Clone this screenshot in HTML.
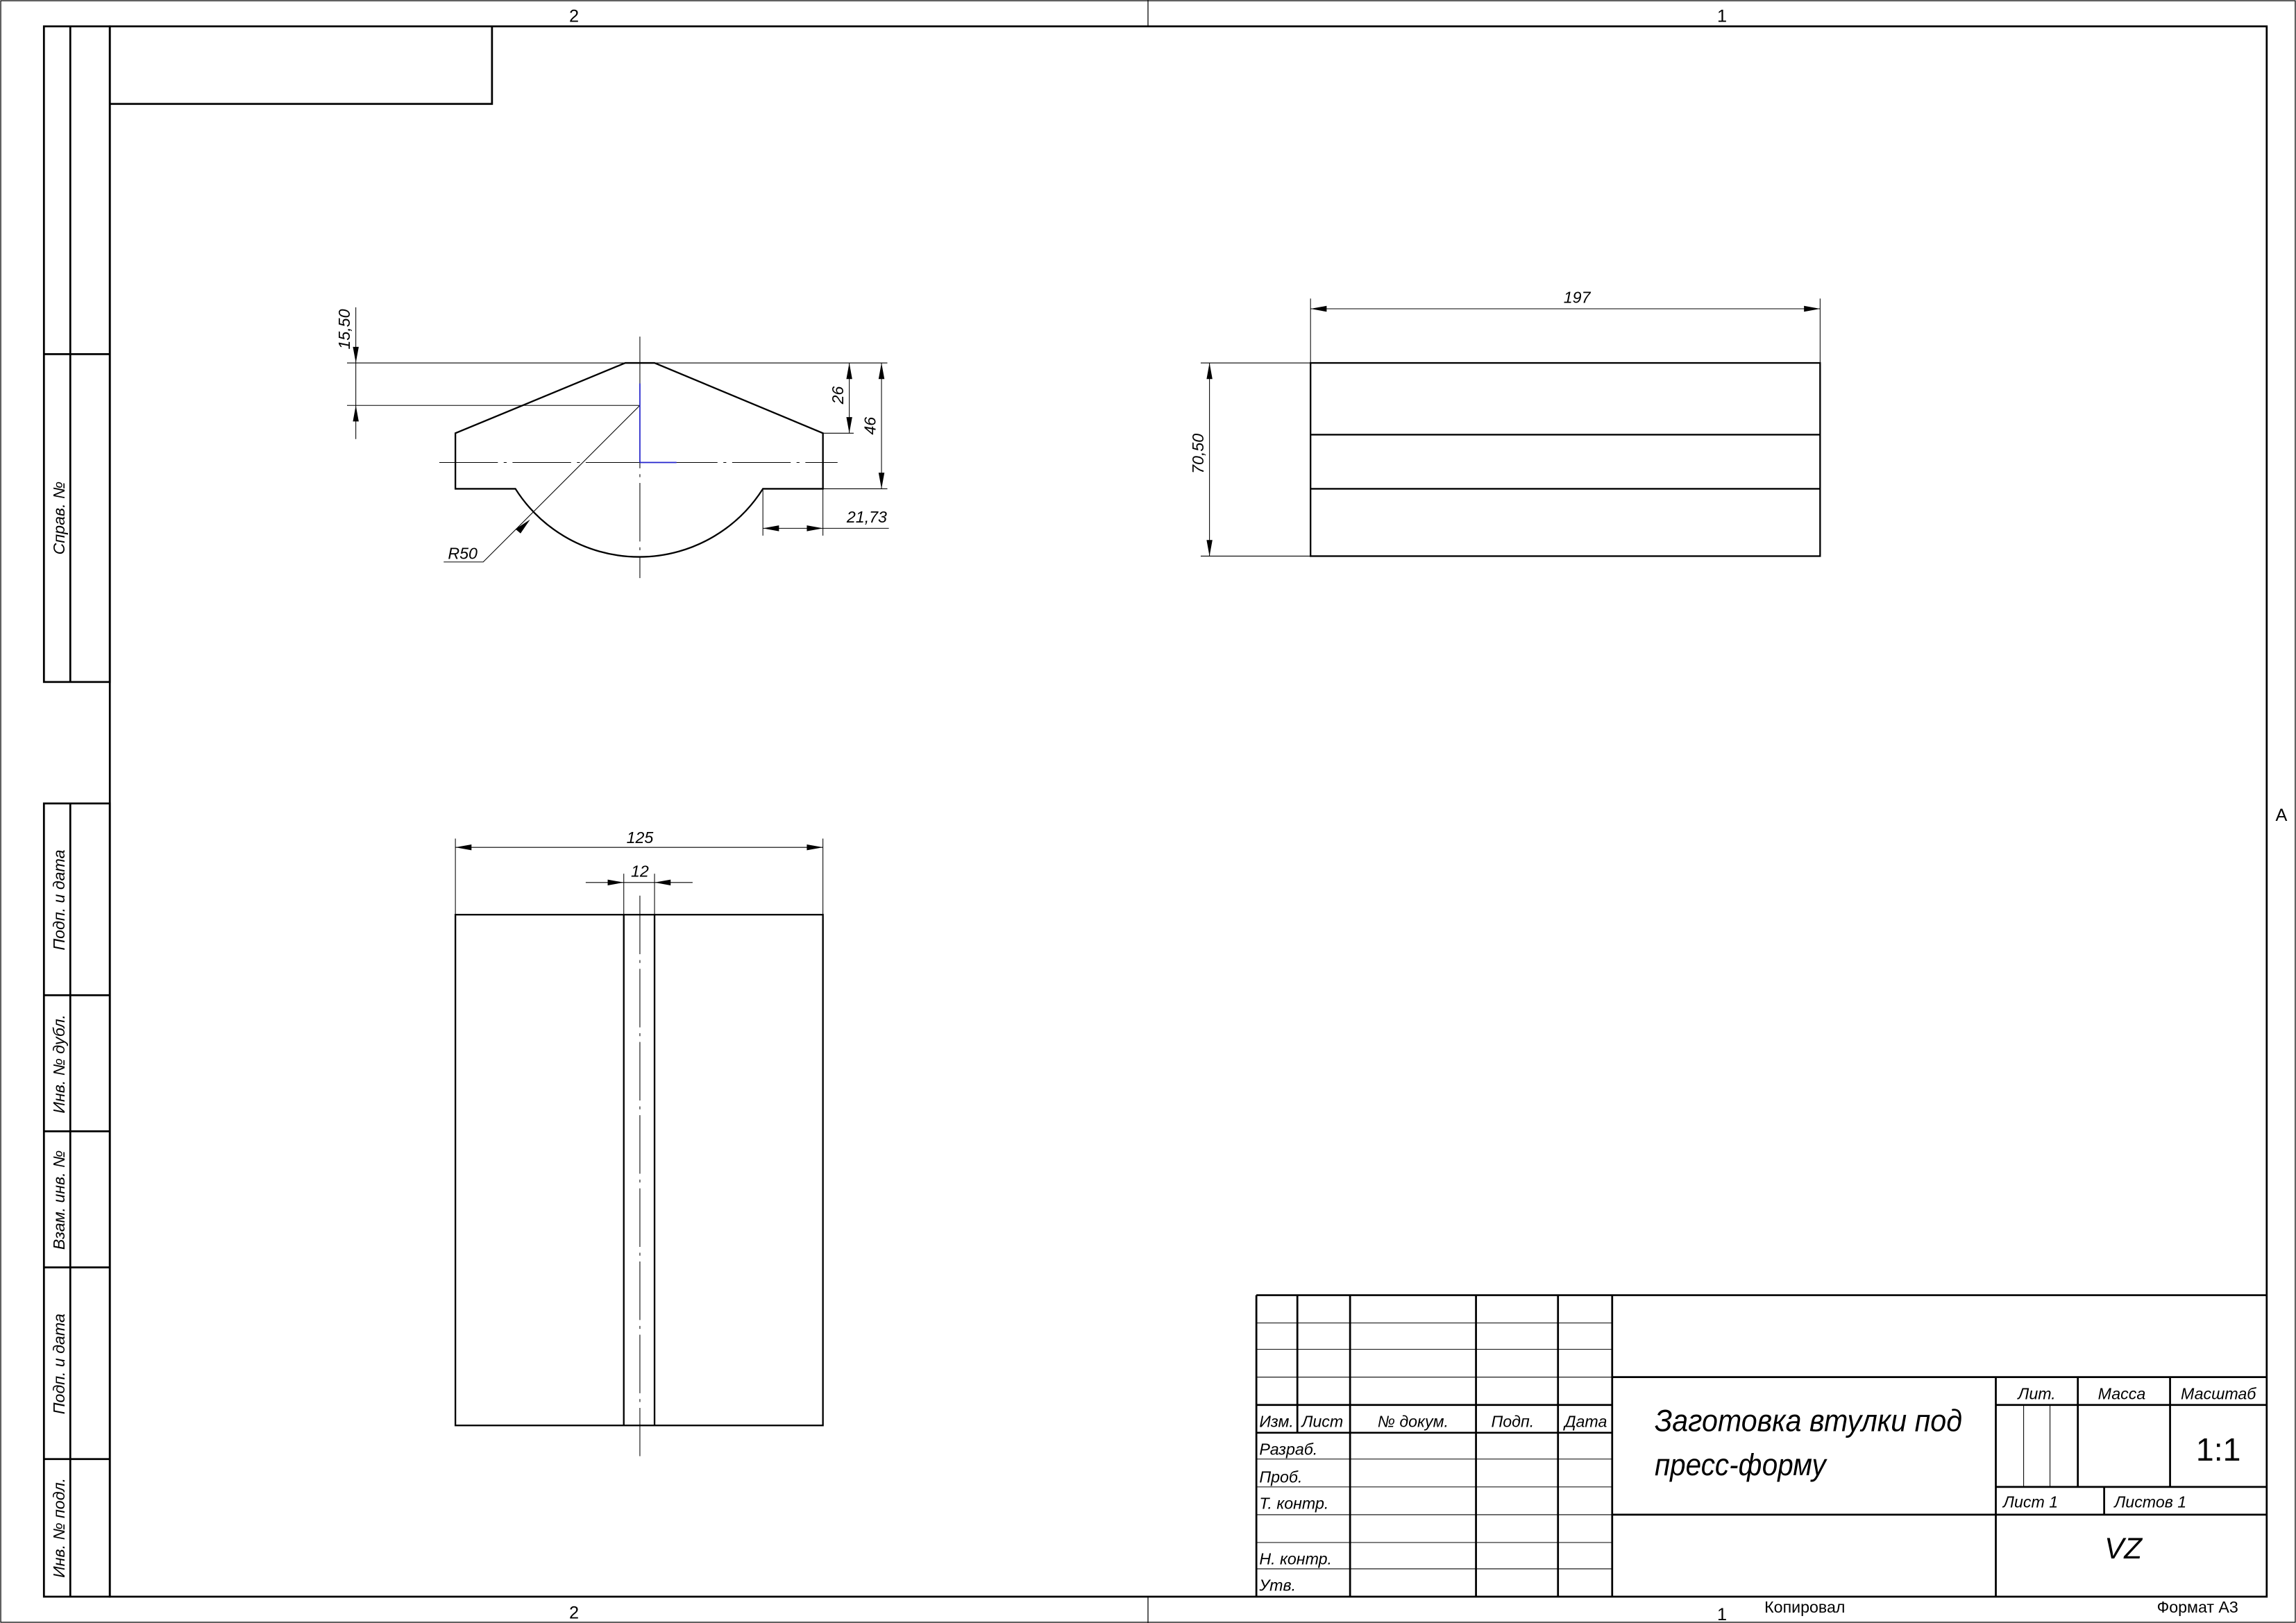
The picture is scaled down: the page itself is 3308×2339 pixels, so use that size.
<!DOCTYPE html>
<html><head><meta charset="utf-8"><style>
html,body{margin:0;padding:0;background:#fff}
svg{display:block}
text{font-family:"Liberation Sans",sans-serif;font-style:italic;fill:#000}
</style></head><body>
<svg width="3308" height="2339" viewBox="0 0 1568 1109" preserveAspectRatio="none" xmlns="http://www.w3.org/2000/svg">
<g fill="none" stroke="#000" stroke-width="0.6">
<rect x="0.5" y="0.5" width="1567" height="1108"/>
<line x1="784" y1="0" x2="784" y2="18"/>
<line x1="784" y1="1091" x2="784" y2="1109"/>
</g>
<g fill="none" stroke="#000" stroke-width="1.3">
<rect x="75" y="18" width="1473" height="1073"/>
<rect x="30" y="18" width="45" height="448"/>
<rect x="30" y="549" width="45" height="542"/>
<line x1="48" y1="18" x2="48" y2="466"/>
<line x1="48" y1="549" x2="48" y2="1091"/>
<line x1="30" y1="242" x2="75" y2="242"/>
<line x1="30" y1="680" x2="75" y2="680"/>
<line x1="30" y1="773" x2="75" y2="773"/>
<line x1="30" y1="866" x2="75" y2="866"/>
<line x1="30" y1="997" x2="75" y2="997"/>
<polyline points="75,71 336,71 336,18"/>
</g>
<g font-size="12" text-anchor="middle" style="font-style:normal">
<text x="392" y="15" style="font-style:normal">2</text><text x="1176" y="15" style="font-style:normal">1</text>
<text x="392" y="1106" style="font-style:normal">2</text><text x="1176" y="1107" style="font-style:normal">1</text>
<text x="1558" y="561" style="font-style:normal">A</text>
</g>
<text x="1205" y="1102" font-size="11" style="font-style:normal">Копировал</text>
<text x="1473" y="1102" font-size="11" style="font-style:normal">Формат А3</text>
<g font-size="11">
<text transform="translate(44,354) rotate(-90)" text-anchor="middle">Справ. №</text>
<text transform="translate(44,615) rotate(-90)" text-anchor="middle">Подп. и дата</text>
<text transform="translate(44,727) rotate(-90)" text-anchor="middle">Инв. № дубл.</text>
<text transform="translate(44,820) rotate(-90)" text-anchor="middle">Взам. инв. №</text>
<text transform="translate(44,932) rotate(-90)" text-anchor="middle">Подп. и дата</text>
<text transform="translate(44,1044) rotate(-90)" text-anchor="middle">Инв. № подл.</text>
</g>

<!-- View 1 -->
<g fill="none" stroke="#000" stroke-width="1.1">
<path d="M427,248 L447,248 L562,296 L562,334 L521,334 A100,100 0 0 1 352,334 L311,334 L311,296 Z"/>
</g>
<g fill="none" stroke="#000" stroke-width="0.5">
<line x1="437" y1="230" x2="437" y2="395" stroke-dasharray="40,4,2,4"/>
<line x1="300" y1="316" x2="572" y2="316" stroke-dasharray="40,4,2,4"/>
<line x1="237" y1="248" x2="606" y2="248"/>
<line x1="237" y1="277" x2="437" y2="277"/>
<line x1="243" y1="210" x2="243" y2="300"/>
<line x1="562" y1="296" x2="583" y2="296"/>
<line x1="562" y1="334" x2="606" y2="334"/>
<line x1="580" y1="248" x2="580" y2="296"/>
<line x1="602" y1="248" x2="602" y2="334"/>
<line x1="521" y1="334" x2="521" y2="366"/>
<line x1="562" y1="334" x2="562" y2="366"/>
<line x1="521" y1="361" x2="607" y2="361"/>
<polyline points="437,277 330,384 303,384"/>
</g>
<g fill="#000">
<polygon points="243,248 241,237 245,237"/>
<polygon points="243,277 241,288 245,288"/>
<polygon points="580,248 578,259 582,259"/>
<polygon points="580,296 578,285 582,285"/>
<polygon points="602,248 600,259 604,259"/>
<polygon points="602,334 600,323 604,323"/>
<polygon points="521,361 532,359 532,363"/>
<polygon points="562,361 551,359 551,363"/>
<polygon points="362,355 352,361.5 355.5,364.5"/>
</g>
<g stroke="#22c" stroke-width="0.8"><line x1="437" y1="262" x2="437" y2="316"/><line x1="437" y1="316" x2="462" y2="316"/></g>
<g font-size="11">
<text transform="translate(239,225) rotate(-90)" text-anchor="middle">15,50</text>
<text transform="translate(576,270) rotate(-90)" text-anchor="middle">26</text>
<text transform="translate(598,291) rotate(-90)" text-anchor="middle">46</text>
<text x="592" y="357" text-anchor="middle">21,73</text>
<text x="316" y="382" text-anchor="middle">R50</text>
</g>

<!-- View 2 -->
<g fill="none" stroke="#000" stroke-width="1.1">
<rect x="895" y="248" width="348" height="132"/>
<line x1="895" y1="297" x2="1243" y2="297"/>
<line x1="895" y1="334" x2="1243" y2="334"/>
</g>
<g fill="none" stroke="#000" stroke-width="0.5">
<line x1="895" y1="204" x2="895" y2="248"/>
<line x1="1243" y1="204" x2="1243" y2="248"/>
<line x1="895" y1="211" x2="1243" y2="211"/>
<line x1="820" y1="248" x2="895" y2="248"/>
<line x1="820" y1="380" x2="895" y2="380"/>
<line x1="826" y1="248" x2="826" y2="380"/>
</g>
<g fill="#000">
<polygon points="895,211 906,209 906,213"/>
<polygon points="1243,211 1232,209 1232,213"/>
<polygon points="826,248 824,259 828,259"/>
<polygon points="826,380 824,369 828,369"/>
</g>
<g font-size="11">
<text x="1077" y="207" text-anchor="middle">197</text>
<text transform="translate(822,310) rotate(-90)" text-anchor="middle">70,50</text>
</g>

<!-- View 3 -->
<g fill="none" stroke="#000" stroke-width="1.1">
<rect x="311" y="625" width="251" height="349"/>
<line x1="426" y1="625" x2="426" y2="974"/>
<line x1="447" y1="625" x2="447" y2="974"/>
</g>
<g fill="none" stroke="#000" stroke-width="0.5">
<line x1="437" y1="612" x2="437" y2="995" stroke-dasharray="40,4,2,4"/>
<line x1="311" y1="573" x2="311" y2="625"/>
<line x1="562" y1="573" x2="562" y2="625"/>
<line x1="311" y1="579" x2="562" y2="579"/>
<line x1="426" y1="597" x2="426" y2="625"/>
<line x1="447" y1="597" x2="447" y2="625"/>
<line x1="400" y1="603" x2="473" y2="603"/>
</g>
<g fill="#000">
<polygon points="311,579 322,577 322,581"/>
<polygon points="562,579 551,577 551,581"/>
<polygon points="426,603 415,601 415,605"/>
<polygon points="447,603 458,601 458,605"/>
</g>
<g font-size="11">
<text x="437" y="576" text-anchor="middle">125</text>
<text x="437" y="599" text-anchor="middle">12</text>
</g>

<!-- Title block -->
<g fill="none" stroke="#000" stroke-width="0.5">
<line x1="858" y1="904" x2="1101" y2="904"/>
<line x1="858" y1="922" x2="1101" y2="922"/>
<line x1="858" y1="941" x2="1101" y2="941"/>
<line x1="858" y1="997" x2="1101" y2="997"/>
<line x1="858" y1="1016" x2="1101" y2="1016"/>
<line x1="858" y1="1035" x2="1101" y2="1035"/>
<line x1="858" y1="1054" x2="1101" y2="1054"/>
<line x1="858" y1="1072" x2="1101" y2="1072"/>
<line x1="1382" y1="960" x2="1382" y2="1016"/>
<line x1="1400" y1="960" x2="1400" y2="1016"/>
</g>
<g fill="none" stroke="#000" stroke-width="1.3">
<line x1="858" y1="885" x2="1548" y2="885"/>
<line x1="858" y1="885" x2="858" y2="1091"/>
<line x1="886" y1="885" x2="886" y2="979"/>
<line x1="922" y1="885" x2="922" y2="1091"/>
<line x1="1008" y1="885" x2="1008" y2="1091"/>
<line x1="1064" y1="885" x2="1064" y2="1091"/>
<line x1="1101" y1="885" x2="1101" y2="1091"/>
<line x1="858" y1="960" x2="1101" y2="960"/>
<line x1="858" y1="979" x2="1101" y2="979"/>
<line x1="1101" y1="941" x2="1548" y2="941"/>
<line x1="1363" y1="941" x2="1363" y2="1091"/>
<line x1="1363" y1="960" x2="1548" y2="960"/>
<line x1="1419" y1="941" x2="1419" y2="1016"/>
<line x1="1482" y1="941" x2="1482" y2="1016"/>
<line x1="1363" y1="1016" x2="1548" y2="1016"/>
<line x1="1437" y1="1016" x2="1437" y2="1035"/>
<line x1="1101" y1="1035" x2="1548" y2="1035"/>
</g>
<g font-size="11">
<text x="860" y="975">Изм.</text>
<text x="889" y="975">Лист</text>
<text x="965" y="975" text-anchor="middle">№ докум.</text>
<text x="1033" y="975" text-anchor="middle">Подп.</text>
<text x="1083" y="975" text-anchor="middle">Дата</text>
<text x="860" y="994">Разраб.</text>
<text x="860" y="1013">Проб.</text>
<text x="860" y="1031">Т. контр.</text>
<text x="860" y="1069">Н. контр.</text>
<text x="860" y="1087">Утв.</text>
<text x="1391" y="956" text-anchor="middle">Лит.</text>
<text x="1449" y="956" text-anchor="middle">Масса</text>
<text x="1515" y="956" text-anchor="middle">Масштаб</text>
<text x="1368" y="1030">Лист 1</text>
<text x="1444" y="1030">Листов 1</text>
</g>
<text x="1130" y="978" font-size="21" textLength="210" lengthAdjust="spacingAndGlyphs">Заготовка втулки под</text>
<text x="1130" y="1008" font-size="21" textLength="117" lengthAdjust="spacingAndGlyphs">пресс-форму</text>
<text x="1515" y="998" font-size="22" text-anchor="middle" style="font-style:normal">1:1</text>
<text x="1450" y="1065" font-size="20" text-anchor="middle">VZ</text>
</svg>
</body></html>
